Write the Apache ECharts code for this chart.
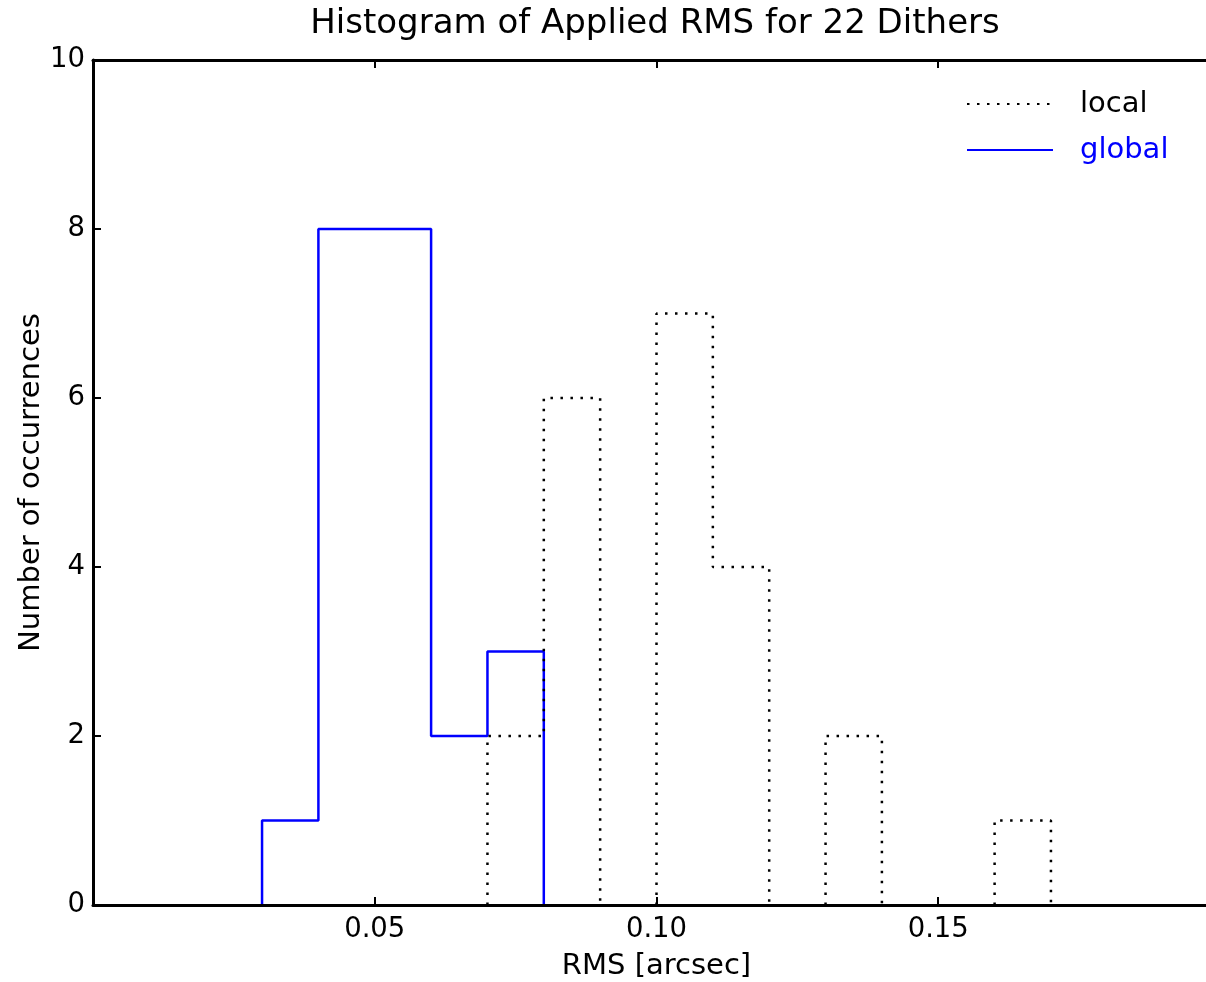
<!DOCTYPE html>
<html>
<head>
<meta charset="utf-8">
<script src="https://cdn.jsdelivr.net/npm/echarts@6/dist/echarts.min.js"></script>
<style>html,body{margin:0;padding:0;background:#fff}#c{width:1206px;height:982px}</style>
</head>
<body>
<div id="c"></div>
<script>
// Bin edges and counts
const localEdges  = [0.07,0.08,0.09,0.10,0.11,0.12,0.13,0.14,0.15,0.16,0.17];
const localCounts = [2,6,0,7,4,0,2,0,0,1];
const globalEdges  = [0.03,0.04,0.05,0.06,0.07,0.08];
const globalCounts = [1,8,8,2,3];
const xTicks = [0.05,0.10,0.15];
const yTicks = [0,2,4,6,8,10];

// Step outline of a histogram; baseline runs of empty bins are left out
// (in the original they are hidden under the x axis line).
function stepOutline(edges, counts){
  const pts = [[edges[0],0]];
  for(let i=0;i<counts.length;i++){
    if(counts[i]===0){
      pts.push([edges[i],0]);
      pts.push([edges[i],null]);
      pts.push([edges[i+1],0]);
    } else {
      pts.push([edges[i],counts[i]]);
      pts.push([edges[i+1],counts[i]]);
    }
  }
  pts.push([edges[edges.length-1],0]);
  return pts;
}

const FONT = 'DejaVu Sans';
const chart = echarts.init(document.getElementById('c'), null, {renderer:'canvas'});
const axisLineStyle = {color:'#000', width:3};
const tickStyle = {color:'#000', width:2};
chart.setOption({
  animation:false,
  backgroundColor:'#fff',
  title:{
    text:'Histogram of Applied RMS for 22 Dithers',
    left:650, textAlign:'center', top:2,
    textStyle:{fontFamily:FONT, fontSize:34, fontWeight:'normal', color:'#000'}
  },
  legend:{
    orient:'vertical', left:961, top:84,
    itemWidth:86, itemHeight:20, itemGap:16,
    itemStyle:{opacity:0},
    textStyle:{fontFamily:FONT, fontSize:29, lineHeight:30, padding:[0,0,0,22]},
    data:[
      {name:'local', textStyle:{color:'#000'}},
      {name:'global', textStyle:{color:'#0000ff'}}
    ]
  },
  grid:{left:93, top:60, right:-14, bottom:77, outerBoundsMode:'none', containLabel:false},
  xAxis:[{
    type:'value', min:0, max:0.2, interval:0.05, position:'bottom', zlevel:1, z:5,
    name:'RMS [arcsec]', nameLocation:'middle', nameGap:47, nameMoveOverlap:false,
    nameTextStyle:{fontFamily:FONT, fontSize:29, color:'#000'},
    axisLine:{show:true, onZero:false, lineStyle:axisLineStyle},
    axisTick:{show:true, inside:true, length:8, lineStyle:tickStyle},
    axisLabel:{fontFamily:FONT, fontSize:27.5, color:'#000', margin:11,
      showMinLabel:false, showMaxLabel:false,
      formatter:v=>xTicks.some(t=>Math.abs(t-v)<1e-9)?v.toFixed(2):''},
    splitLine:{show:false}
  },{
    type:'value', min:0, max:0.2, interval:0.05, position:'top', zlevel:1, z:5,
    axisLine:{show:true, onZero:false, lineStyle:axisLineStyle},
    axisTick:{show:true, inside:true, length:8, lineStyle:tickStyle},
    axisLabel:{show:false}, splitLine:{show:false}
  }],
  yAxis:[{
    type:'value', min:yTicks[0], max:yTicks[yTicks.length-1], interval:2, position:'left', zlevel:1, z:5,
    name:'Number of occurrences', nameLocation:'middle', nameGap:47, nameMoveOverlap:false,
    nameTextStyle:{fontFamily:FONT, fontSize:29, color:'#000'},
    axisLine:{show:true, onZero:false, lineStyle:axisLineStyle},
    axisTick:{show:true, inside:true, length:8, lineStyle:tickStyle},
    axisLabel:{fontFamily:FONT, fontSize:27.5, color:'#000', margin:8},
    splitLine:{show:false}
  },{
    type:'value', min:0, max:10, interval:2, position:'right', zlevel:1, z:5,
    axisLine:{show:true, onZero:false, lineStyle:axisLineStyle},
    axisTick:{show:true, inside:true, length:8, lineStyle:tickStyle},
    axisLabel:{show:false}, splitLine:{show:false}
  }],
  series:[{
    name:'global', type:'line', data:stepOutline(globalEdges, globalCounts),
    showSymbol:false, symbol:'none', color:'#0000ff', connectNulls:false,
    lineStyle:{color:'#0000ff', width:2.5}, z:2
  },{
    name:'local', type:'line', data:stepOutline(localEdges, localCounts),
    showSymbol:false, symbol:'none', color:'#000', connectNulls:false,
    lineStyle:{color:'#000', width:2.5, type:[2.5,7.5]}, z:3
  }]
});
</script>
</body>
</html>
